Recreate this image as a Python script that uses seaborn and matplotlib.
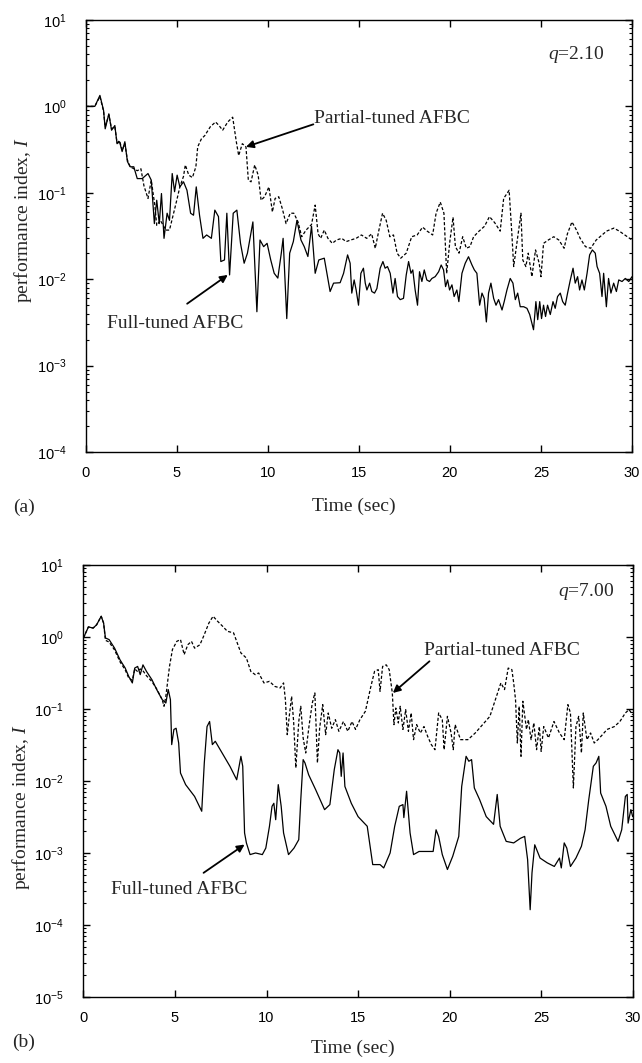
"""Performance index I(t) on a log scale for the full- and partial-tuned AFBC, q=2.10 and q=7.00."""

import matplotlib

matplotlib.use("Agg")

import matplotlib.pyplot as plt
import matplotlib.ticker as mticker
import seaborn as sns


# (a) q = 2.10
time_a_full = [
    0.0, 0.5, 0.78, 0.98, 1.07, 1.27, 1.42, 1.6, 1.72, 1.86, 2.0, 2.15, 2.29, 2.44, 2.64, 2.83,
    3.1, 3.42, 3.6, 3.77, 3.9, 4.04, 4.16, 4.3, 4.47, 4.6, 4.75, 4.88, 5.02, 5.17, 5.37, 5.56,
    5.76, 5.92, 6.07, 6.25, 6.44, 6.64, 6.9, 7.09, 7.29, 7.42, 7.62, 7.75, 7.9, 8.1, 8.3, 8.5,
    8.7, 8.88, 9.18, 9.4, 9.57, 9.77, 9.96, 10.16, 10.35, 10.55, 10.74, 10.84, 11.04, 11.2,
    11.4, 11.6, 11.82, 12.0, 12.2, 12.4, 12.6, 12.8, 13.1,
    13.42, 13.61, 13.97, 14.16, 14.38, 14.52, 14.61, 14.74, 14.85, 14.98, 15.11, 15.25, 15.35,
    15.44, 15.59, 15.71, 15.86, 15.99, 16.17, 16.32, 16.44, 16.57, 16.72, 16.87, 16.99, 17.12,
    17.27, 17.45, 17.6, 17.73, 17.86, 17.96, 18.09, 18.22, 18.33, 18.46, 18.59, 18.73, 18.88,
    19.01, 19.19, 19.38, 19.52, 19.65, 19.76, 19.87, 19.98, 20.11, 20.23, 20.38, 20.49, 20.66,
    20.84, 21.02, 21.21, 21.34, 21.48, 21.63, 21.76, 21.88, 22.0, 22.12, 22.25, 22.4, 22.53,
    22.67, 22.86, 22.98, 23.13, 23.31, 23.46, 23.59, 23.72, 23.86, 24.05, 24.23, 24.38, 24.5,
    24.59, 24.72, 24.82, 24.93, 25.03, 25.14, 25.25, 25.36, 25.51, 25.66, 25.78, 25.91, 26.06,
    26.19, 26.33, 26.46, 26.61, 26.76, 26.88, 27.01, 27.12, 27.25, 27.38, 27.53, 27.67, 27.82,
    27.98, 28.08, 28.22, 28.35, 28.44, 28.59, 28.71, 28.84, 28.99, 29.14, 29.27, 29.45, 29.63,
    29.82, 30.0,
]
perf_a_full = [
    1.0, 1.0, 1.34, 0.90, 0.55, 0.82, 0.53, 0.60, 0.37, 0.39, 0.30, 0.39, 0.23, 0.20, 0.20, 0.146,
    0.146, 0.167, 0.14, 0.044, 0.082, 0.044, 0.098, 0.0297, 0.058, 0.048, 0.167, 0.103, 0.16,
    0.117, 0.134, 0.107, 0.058, 0.055, 0.117, 0.055, 0.0297, 0.0325, 0.0297, 0.063, 0.053,
    0.016, 0.0167, 0.058, 0.0112, 0.058, 0.063, 0.026, 0.0153, 0.020, 0.046, 0.0042, 0.0284,
    0.0238, 0.026, 0.0167, 0.0117, 0.0103, 0.020, 0.0297, 0.0035, 0.020, 0.0272, 0.048, 0.0284,
    0.0238, 0.0183, 0.041, 0.0117, 0.0167, 0.0175,
    0.0072, 0.0090, 0.0091, 0.0117, 0.0191, 0.0153, 0.0069, 0.0098, 0.0075, 0.0050, 0.0117,
    0.0134, 0.0090, 0.0075, 0.0090, 0.0072, 0.0069, 0.0078, 0.0134, 0.0160, 0.0134, 0.0140,
    0.0117, 0.0069, 0.0102, 0.0063, 0.0058, 0.0060, 0.0112, 0.0160, 0.0117, 0.0128, 0.0075,
    0.0050, 0.0122, 0.0094, 0.0128, 0.0098, 0.0094, 0.0102, 0.0107, 0.0122, 0.0146, 0.0128,
    0.0082, 0.0098, 0.0075, 0.0086, 0.0063, 0.0075, 0.0055, 0.0117, 0.0153, 0.0182, 0.0146,
    0.0128, 0.0117, 0.0050, 0.0069, 0.0060, 0.0032, 0.0069, 0.0090, 0.0060, 0.0050, 0.0058,
    0.0044, 0.0055, 0.0075, 0.0102, 0.0090, 0.0058, 0.0069, 0.0048, 0.0048, 0.0046, 0.0039,
    0.0031, 0.0026, 0.0055, 0.0034, 0.0055, 0.0035, 0.0050, 0.0037, 0.0050, 0.0039, 0.0055,
    0.0046, 0.0063, 0.0069, 0.0055, 0.0050, 0.0069, 0.0098, 0.0134, 0.0090, 0.0107, 0.0075,
    0.0098, 0.0075, 0.0117, 0.0191, 0.0218, 0.0200, 0.0140, 0.0117, 0.0063, 0.0117, 0.0048,
    0.0102, 0.0069, 0.0090, 0.0072, 0.0098, 0.0094, 0.0102, 0.0094, 0.0107,
]
time_a_partial = [
    0.0, 0.5, 0.78, 0.98, 1.07, 1.27, 1.42, 1.6, 1.72, 1.86, 2.0, 2.15, 2.29, 2.44, 2.64, 2.83,
    3.03, 3.2, 3.42, 3.6, 3.8, 3.9, 4.1, 4.4, 4.6, 4.8, 5.0, 5.17, 5.37, 5.47, 5.66, 5.86, 6.05,
    6.15, 6.35, 6.54, 6.84, 7.13, 7.32, 7.52, 7.8, 8.07, 8.27, 8.4, 8.6, 8.8, 8.93, 9.08, 9.28,
    9.47, 9.63, 9.82, 10.06, 10.25, 10.4, 10.6, 10.8, 11.0, 11.23, 11.43, 11.66, 11.86, 12.1,
    12.4, 12.6, 12.76, 12.9, 13.1, 13.3, 13.54, 13.77, 14.06, 14.3, 14.55, 14.85, 15.14, 15.43,
    15.7, 15.9, 16.1, 16.3, 16.5, 16.7, 16.9, 17.1, 17.3, 17.6, 17.9, 18.2, 18.5, 18.75, 19.05,
    19.24, 19.47, 19.67, 19.82, 20.0, 20.17, 20.3, 20.5, 20.7, 20.9, 21.1, 21.3, 21.6, 21.9,
    22.17, 22.46, 22.76, 22.95, 23.25, 23.4, 23.5, 23.7, 23.9, 24.0, 24.17, 24.3, 24.5, 24.7,
    24.9, 25.0, 25.14, 25.4, 25.7, 25.98, 26.27, 26.45, 26.7, 26.95, 27.15, 27.44, 27.73,
    28.03, 28.3, 28.6, 29.0, 29.3, 29.6, 30.0,
]
perf_a_partial = [
    1.0, 1.0, 1.30, 0.88, 0.58, 0.80, 0.55, 0.58, 0.38, 0.40, 0.31, 0.37, 0.24, 0.20, 0.19, 0.18,
    0.19, 0.12, 0.086, 0.14, 0.07, 0.042, 0.048, 0.037, 0.037, 0.055, 0.082, 0.117, 0.155, 0.21,
    0.16, 0.15, 0.20, 0.34, 0.42, 0.46, 0.58, 0.66, 0.60, 0.53, 0.66, 0.75, 0.39, 0.27, 0.37,
    0.34, 0.14, 0.134, 0.21, 0.16, 0.082, 0.09, 0.117, 0.06, 0.086, 0.09, 0.065, 0.044, 0.058,
    0.058, 0.046, 0.031, 0.037, 0.043, 0.072, 0.0335, 0.0297, 0.037, 0.0297, 0.026, 0.0284,
    0.0297, 0.0272, 0.0284, 0.0297, 0.0325, 0.0297, 0.0335, 0.0228, 0.037, 0.058, 0.048, 0.031,
    0.0325, 0.020, 0.0175, 0.020, 0.031, 0.0325, 0.040, 0.036, 0.0325, 0.058, 0.078, 0.058,
    0.0117, 0.028, 0.052, 0.0238, 0.020, 0.031, 0.0228, 0.0238, 0.031, 0.036, 0.041, 0.053,
    0.045, 0.036, 0.086, 0.107, 0.0335, 0.014, 0.0284, 0.058, 0.0167, 0.014, 0.020, 0.0107,
    0.0218, 0.0153, 0.0107, 0.026, 0.0284, 0.031, 0.0284, 0.0228, 0.0335, 0.046, 0.037,
    0.0297, 0.0238, 0.0228, 0.0284, 0.0318, 0.036, 0.039, 0.036, 0.0325, 0.0284,
]

# (b) q = 7.00
time_b_full = [
    0.0, 0.27, 0.53, 0.72, 0.97, 1.1, 1.2, 1.4, 1.7, 2.0, 2.28, 2.47, 2.67, 2.8, 2.96, 3.1,
    3.25, 3.44, 3.74, 4.0, 4.3, 4.5, 4.63, 4.75, 4.82, 4.94, 5.06, 5.2, 5.3, 5.58, 6.07, 6.46,
    6.6, 6.75, 6.89, 7.04, 7.2, 7.63, 8.0, 8.37, 8.6, 8.7, 8.8, 8.9, 9.1, 9.4, 9.77, 9.96,
    10.16, 10.3, 10.4, 10.5, 10.64, 10.8, 10.93, 11.2, 11.5, 11.76, 11.87, 12.0, 12.1, 12.3,
    12.68, 13.17, 13.46, 13.7, 13.9, 14.0, 14.08, 14.18, 14.28, 14.63, 15.0, 15.5, 15.8, 16.2,
    16.4, 16.75, 17.0, 17.25, 17.45, 17.5, 17.65, 17.84, 18.03, 18.33, 18.7, 19.1, 19.26, 19.4,
    19.6, 19.88, 20.17, 20.5, 20.66, 20.9, 21.05, 21.2, 21.35, 21.64, 22.0, 22.4, 22.6, 22.76,
    23.09, 23.5, 23.87, 24.1, 24.26, 24.4, 24.5, 24.65, 24.94, 25.33, 25.72, 26.0, 26.1, 26.26,
    26.4, 26.6, 26.9, 27.2, 27.4, 27.6, 27.85, 28.0, 28.15, 28.25, 28.54, 28.8, 29.2, 29.4,
    29.6, 29.7, 29.75, 29.9, 30.0,
]
perf_b_full = [
    0.97, 1.38, 1.33, 1.48, 1.94, 1.56, 0.97, 0.92, 0.70, 0.48, 0.37, 0.284, 0.23, 0.37, 0.39,
    0.30, 0.41, 0.333, 0.255, 0.186, 0.135, 0.121, 0.186, 0.135, 0.032, 0.052, 0.054, 0.0337,
    0.0129, 0.0089, 0.0061, 0.0038, 0.0178, 0.057, 0.067, 0.032, 0.0356, 0.0232, 0.016, 0.0104,
    0.022, 0.016, 0.0019, 0.00138, 0.00095, 0.0010, 0.00095, 0.00117, 0.00235, 0.00445, 0.0049,
    0.0029, 0.0089, 0.00445, 0.0019, 0.00095, 0.00117, 0.00153, 0.0055, 0.0198, 0.0178, 0.0122,
    0.0076, 0.0040, 0.0047, 0.0144, 0.0272, 0.0245, 0.0116, 0.0245, 0.0084, 0.0049, 0.0032,
    0.00235, 0.00069, 0.00069, 0.00062, 0.0010, 0.00235, 0.00445, 0.0047, 0.0031, 0.0072,
    0.0019, 0.00095, 0.00105, 0.00105, 0.00105, 0.0021, 0.0017, 0.00095, 0.00059, 0.0009,
    0.0017, 0.0084, 0.022, 0.0188, 0.0198, 0.0080, 0.0055, 0.0032, 0.0025, 0.0065, 0.00235,
    0.00145, 0.00138, 0.0016, 0.0017, 0.00081, 0.000163, 0.00053, 0.0013, 0.00085, 0.00073,
    0.00065, 0.00085, 0.00062, 0.00138, 0.00117, 0.00065, 0.00085, 0.00124, 0.0021, 0.0055,
    0.016, 0.0178, 0.022, 0.0068, 0.00445, 0.00235, 0.00145, 0.0021, 0.0061, 0.0065, 0.0026,
    0.0040, 0.0032,
]
time_b_partial = [
    0.0, 0.27, 0.53, 0.72, 0.97, 1.1, 1.2, 1.4, 1.7, 2.0, 2.28, 2.47, 2.67, 2.8, 2.96, 3.1,
    3.25, 3.44, 3.74, 4.0, 4.3, 4.4, 4.5, 4.7, 4.86, 5.1, 5.3, 5.5, 5.7, 5.9, 6.07, 6.36, 6.56,
    6.85, 7.08, 7.33, 7.6, 7.86, 8.2, 8.4, 8.6, 8.9, 9.14, 9.38, 9.57, 9.86, 10.16, 10.45,
    10.74, 10.93, 11.03, 11.13, 11.25, 11.37, 11.48, 11.6, 11.76, 11.87, 12.0, 12.14, 12.33,
    12.5, 12.64, 12.78, 12.9, 13.07, 13.23, 13.37, 13.56, 13.76, 13.95, 14.2, 14.44, 14.67,
    14.86, 15.1, 15.4, 15.7, 15.9, 16.1, 16.2, 16.34, 16.54, 16.7, 16.87, 16.96, 17.06, 17.2,
    17.3, 17.45, 17.6, 17.75, 17.9, 18.03, 18.2, 18.4, 18.6, 18.8, 19.0, 19.2, 19.4, 19.6,
    19.7, 19.88, 20.08, 20.2, 20.3, 20.6, 21.0, 21.4, 21.8, 22.2, 22.5, 22.8, 23.0, 23.2, 23.4,
    23.5, 23.6, 23.7, 23.8, 23.9, 24.0, 24.2, 24.3, 24.45, 24.6, 24.75, 24.9, 25.0, 25.14,
    25.4, 25.7, 26.0, 26.26, 26.46, 26.6, 26.76, 26.9, 27.05, 27.2, 27.3, 27.5, 27.7, 27.9,
    28.1, 28.35, 28.6, 29.0, 29.3, 29.6, 29.8, 30.0,
]
perf_b_partial = [
    0.97, 1.38, 1.33, 1.48, 1.94, 1.56, 0.90, 0.85, 0.66, 0.45, 0.35, 0.27, 0.25, 0.36, 0.33,
    0.36, 0.34, 0.29, 0.24, 0.19, 0.135, 0.109, 0.150, 0.39, 0.67, 0.87, 0.92, 0.57, 0.78,
    0.87, 0.70, 0.78, 1.02, 1.56, 1.94, 1.65, 1.41, 1.2, 1.14, 0.83, 0.60, 0.51, 0.333, 0.30,
    0.316, 0.23, 0.242, 0.206, 0.196, 0.23, 0.135, 0.044, 0.083, 0.150, 0.067, 0.0152, 0.067,
    0.109, 0.0396, 0.0245, 0.0606, 0.121, 0.167, 0.0178, 0.054, 0.115, 0.044, 0.088, 0.054,
    0.071, 0.049, 0.067, 0.049, 0.067, 0.052, 0.071, 0.093, 0.206, 0.333, 0.352, 0.176, 0.39,
    0.41, 0.352, 0.167, 0.0606, 0.103, 0.064, 0.109, 0.052, 0.098, 0.049, 0.088, 0.0375,
    0.0606, 0.0464, 0.057, 0.0417, 0.032, 0.0272, 0.088, 0.071, 0.0272, 0.079, 0.0464, 0.0272,
    0.0606, 0.0375, 0.0375, 0.0464, 0.0606, 0.079, 0.135, 0.23, 0.186, 0.37, 0.352, 0.23,
    0.135, 0.0337, 0.109, 0.022, 0.128, 0.052, 0.071, 0.0375, 0.064, 0.0272, 0.057, 0.0258,
    0.057, 0.0396, 0.067, 0.0464, 0.0375, 0.115, 0.088, 0.0080, 0.057, 0.079, 0.0245, 0.088,
    0.0375, 0.0464, 0.0337, 0.0375, 0.044, 0.052, 0.057, 0.067, 0.088, 0.098, 0.083,
]

# decade ticks shown on each panel
decades_a = [1e-4, 1e-3, 1e-2, 1e-1, 1e0, 1e1]
decades_b = [1e-5, 1e-4, 1e-3, 1e-2, 1e-1, 1e0, 1e1]
time_ticks = [0, 5, 10, 15, 20, 25, 30]

sns.set_style("ticks")
plt.rcParams["font.family"] = ["Liberation Serif", "DejaVu Serif"]
plt.rcParams["mathtext.fontset"] = "custom"
plt.rcParams["mathtext.rm"] = "Liberation Serif"
plt.rcParams["mathtext.it"] = "Liberation Serif:italic"
plt.rcParams["axes.unicode_minus"] = False
plt.rcParams["axes.linewidth"] = 1.0
plt.rcParams["axes.edgecolor"] = "black"

TEXT_SIZE = 14
ARROW = dict(arrowstyle="-|>", color="black", lw=1.3, mutation_scale=11, shrinkA=0, shrinkB=0)


def _draw_panel(ax, t_full, i_full, t_part, i_part, decades, ylabel_y, xlabel_y):
    sns.lineplot(x=t_full, y=i_full, ax=ax, color="black", linewidth=0.9, sort=False)
    sns.lineplot(x=t_part, y=i_part, ax=ax, color="black", linewidth=0.9, linestyle=(0, (2.5, 1.6)), sort=False)
    ax.set_yscale("log")
    ax.set_xlim(time_ticks[0], time_ticks[-1])
    ax.set_ylim(decades[0], decades[-1])
    ax.set_xticks(time_ticks)
    ax.yaxis.set_major_locator(mticker.FixedLocator(decades))
    ax.yaxis.set_major_formatter(mticker.LogFormatterSciNotation())
    ax.yaxis.set_minor_locator(mticker.LogLocator(base=10, subs=range(2, 10), numticks=12))
    ax.yaxis.set_minor_formatter(mticker.NullFormatter())
    ax.tick_params(which="both", direction="in", top=True, right=True, colors="black")
    ax.tick_params(which="major", length=5, width=1.0, labelsize=10.5,
                   labelfontfamily=["Liberation Sans Narrow", "Liberation Sans"])
    ax.tick_params(which="minor", length=2.5, width=0.8)
    ax.tick_params(axis="x", pad=10)
    ax.tick_params(axis="y", pad=14)
    for spine in ax.spines.values():
        spine.set_visible(True)
    ax.set_ylabel("performance index, $I$", fontsize=TEXT_SIZE)
    ax.yaxis.set_label_coords(-0.114, ylabel_y)
    ax.yaxis.label.set_va("center")
    ax.set_xlabel("Time (sec)", fontsize=TEXT_SIZE)
    ax.xaxis.set_label_coords(0.49, xlabel_y)
    ax.xaxis.label.set_va("center")


fig = plt.figure(figsize=(6.42, 10.63), dpi=100)
ax_a = fig.add_axes([0.1335, 0.5748, 0.851, 0.4064])
ax_b = fig.add_axes([0.1300, 0.0621, 0.8555, 0.4064])

_draw_panel(ax_a, time_a_full, perf_a_full, time_a_partial, perf_a_partial, decades_a, 0.537, -0.126)
ax_a.text(25.4, 4.0, "$q$=2.10", fontsize=TEXT_SIZE, va="center")
ax_a.annotate("", xy=(8.8, 0.34), xytext=(12.5, 0.62), arrowprops=ARROW)
ax_a.text(12.55, 0.72, "Partial-tuned AFBC", fontsize=TEXT_SIZE, va="center")
ax_a.annotate("", xy=(7.8, 0.0112), xytext=(5.57, 0.0052), arrowprops=ARROW)
ax_a.text(1.17, 0.0031, "Full-tuned AFBC", fontsize=TEXT_SIZE, va="center")

_draw_panel(ax_b, time_b_full, perf_b_full, time_b_partial, perf_b_partial, decades_b, 0.44, -0.118)
ax_b.text(25.9, 4.3, "$q$=7.00", fontsize=TEXT_SIZE, va="center")
ax_b.annotate("", xy=(16.9, 0.167), xytext=(18.9, 0.46), arrowprops=ARROW)
ax_b.text(18.6, 0.65, "Partial-tuned AFBC", fontsize=TEXT_SIZE, va="center")
ax_b.annotate("", xy=(8.8, 0.00131), xytext=(6.56, 0.00053), arrowprops=ARROW)
ax_b.text(1.5, 0.00031, "Full-tuned AFBC", fontsize=TEXT_SIZE, va="center")

fig.text(0.037, 0.523, "(a)", fontsize=TEXT_SIZE, ha="center", va="center")
fig.text(0.037, 0.019, "(b)", fontsize=TEXT_SIZE, ha="center", va="center")

fig.savefig("out.png", dpi=100)
